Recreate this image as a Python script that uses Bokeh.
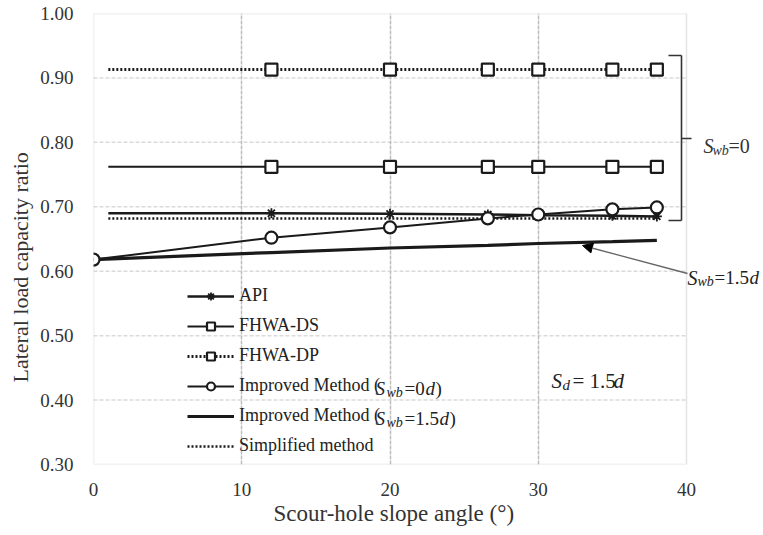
from bokeh.plotting import figure
from bokeh.models import (Legend, LegendItem, Label, Arrow, NormalHead, Title, BoxAnnotation,
                          FixedTicker, NumeralTickFormatter, Range1d)
from bokeh.embed import file_html
from bokeh.resources import INLINE

FONT = "Liberation Serif"

# ---------------- data ----------------
# scour-hole slope angles (deg); first value is the line start (no marker)
method_angle = [1, 12, 20, 26.6, 30, 35, 38]
api = [0.690, 0.690, 0.689, 0.688, 0.687, 0.686, 0.685]
fhwa_ds = [0.762, 0.762, 0.762, 0.762, 0.762, 0.762, 0.762]
fhwa_dp = [0.913, 0.913, 0.913, 0.913, 0.913, 0.913, 0.913]
simplified = [0.682, 0.682, 0.682, 0.682, 0.682, 0.682, 0.682]

improved_angle = [0, 12, 20, 26.6, 30, 35, 38]
improved_0d = [0.618, 0.652, 0.668, 0.682, 0.688, 0.696, 0.699]
improved_15d = [0.618, 0.629, 0.636, 0.640, 0.643, 0.646, 0.648]

x_ticks = [0, 10, 20, 30, 40]
y_ticks = [0.30, 0.40, 0.50, 0.60, 0.70, 0.80, 0.90, 1.00]

# ---------------- layout ----------------
# plot box spans 0..40 over 593 px; the drawing area continues to the right
# edge so that the right-hand annotations are not clipped
PLOT_L, PLOT_W, PLOT_T, PLOT_H = 93, 593, 13, 451
FRAME_W = 763 - PLOT_L
X_MAX = x_ticks[-1] * FRAME_W / PLOT_W

p = figure(frame_width=FRAME_W, frame_height=PLOT_H,
           x_range=Range1d(x_ticks[0], X_MAX), y_range=Range1d(y_ticks[0], y_ticks[-1]),
           output_backend="svg", toolbar_location=None,
           min_border_left=PLOT_L, min_border_right=0,
           min_border_top=PLOT_T, min_border_bottom=71)
p.background_fill_color = "white"
p.border_fill_color = "white"
p.outline_line_color = None

p.xaxis.ticker = FixedTicker(ticks=x_ticks)
p.yaxis.ticker = FixedTicker(ticks=y_ticks)
p.yaxis.formatter = NumeralTickFormatter(format="0.00")
for ax in (p.xaxis, p.yaxis):
    ax.axis_line_color = None
    ax.major_tick_line_color = None
    ax.minor_tick_line_color = None
    ax.major_label_text_font = FONT
    ax.major_label_text_font_size = "19px"
    ax.major_label_text_color = "#333333"
p.yaxis.major_label_standoff = 14
p.xaxis.major_label_standoff = 12

p.add_layout(Title(text="Scour-hole slope angle (°)", align="left", offset=180, standoff=0,
                   text_font=FONT, text_font_size="23px", text_font_style="normal",
                   text_color="#333333"), "below")
p.add_layout(Title(text="Lateral load capacity ratio", align="left", offset=82, standoff=9,
                   vertical_align="bottom",
                   text_font=FONT, text_font_size="22px", text_font_style="normal",
                   text_color="#333333"), "left")

# grid
p.xgrid.ticker = FixedTicker(ticks=x_ticks[1:-1])
p.xgrid.grid_line_color = "#bdbdbd"
p.xgrid.grid_line_width = 1.5
p.xgrid.grid_line_dash = "4 1"
p.ygrid.visible = False
inner_y = y_ticks[1:-1]
p.segment(x0=[x_ticks[0]] * len(inner_y), x1=[x_ticks[-1]] * len(inner_y),
          y0=inner_y, y1=inner_y, line_color="#dadada", line_width=1.5,
          line_dash="4 2", level="underlay")
p.add_layout(BoxAnnotation(left=x_ticks[0], right=x_ticks[-1], bottom=y_ticks[0], top=y_ticks[-1],
                           fill_alpha=0, line_color="#a6a6a6", line_width=1.5))

# ---------------- series ----------------
INK = "#1a1a1a"
dp_line = p.line(method_angle, fhwa_dp, line_color=INK, line_width=3, line_dash="2 2")
dp_pts = p.scatter(method_angle[1:], fhwa_dp[1:], marker="square", size=12,
                   fill_color="white", line_color=INK, line_width=2.2)

ds_line = p.line(method_angle, fhwa_ds, line_color=INK, line_width=2)
ds_pts = p.scatter(method_angle[1:], fhwa_ds[1:], marker="square", size=12,
                   fill_color="white", line_color=INK, line_width=2.2)

sm_line = p.line(method_angle, simplified, line_color=INK, line_width=2.5, line_dash="2 2")

api_line = p.line(method_angle, api, line_color=INK, line_width=2.5)
api_pts = p.scatter(method_angle[1:], api[1:], marker="asterisk", size=10,
                    line_color=INK, line_width=1.8)

i15_line = p.line(improved_angle, improved_15d, line_color=INK, line_width=3.2)

i0_line = p.line(improved_angle, improved_0d, line_color=INK, line_width=2)
i0_pts = p.scatter(improved_angle, improved_0d, marker="circle", size=12,
                   fill_color="white", line_color=INK, line_width=2.2)

# ---------------- legend ----------------
legend = Legend(items=[
    LegendItem(label="API", renderers=[api_line, api_pts]),
    LegendItem(label="FHWA-DS", renderers=[ds_line, ds_pts]),
    LegendItem(label="FHWA-DP", renderers=[dp_line, dp_pts]),
    LegendItem(label="Improved Method (", renderers=[i0_line, i0_pts]),
    LegendItem(label="Improved Method (", renderers=[i15_line]),
    LegendItem(label="Simplified method", renderers=[sm_line]),
], location=(94, 8), glyph_width=47, glyph_height=20, label_height=20,
   label_standoff=5, spacing=9, padding=0, margin=0,
   border_line_color=None, background_fill_alpha=0,
   label_text_font=FONT, label_text_font_size="18px", label_text_color="#222222")
p.add_layout(legend)

# ---------------- annotations ----------------
def px_x(px):
    return (px - PLOT_L) / PLOT_W * x_ticks[-1]

def px_y(py):
    return y_ticks[-1] - (py - PLOT_T) / PLOT_H * (y_ticks[-1] - y_ticks[0])

def add_text(text, px, py, size, style="normal", color="#222222"):
    p.add_layout(Label(x=px_x(px), y=px_y(py), text=text, text_font=FONT,
                       text_font_size=f"{size}px", text_font_style=style,
                       text_baseline="alphabetic", text_align="left",
                       text_color=color))

# legend subscripts
add_text("S", 375, 388, 19, "italic")
add_text("wb", 386, 392, 14, "italic")
add_text("=0", 404, 388, 19)
add_text("d", 425, 388, 19, "italic")
add_text(")", 435, 388, 19)

add_text("S", 375, 418, 19, "italic")
add_text("wb", 386, 422, 14, "italic")
add_text("=1.5", 404, 418, 19)
add_text("d", 439, 418, 19, "italic")
add_text(")", 449, 418, 19)

# S_d = 1.5d
add_text("S", 551, 380, 21, "italic")
add_text("d", 562, 384, 15, "italic")
add_text("= 1.5", 572, 380, 21)
add_text("d", 613, 380, 21, "italic")

# S_wb = 0 bracket label
add_text("S", 703, 145, 20, "italic", "#333333")
add_text("wb", 712, 150, 14, "italic", "#333333")
add_text("=0", 728, 145, 20, "normal", "#333333")

# S_wb = 1.5d pointer label
add_text("S", 687, 277, 20, "italic")
add_text("wb", 697, 281, 14, "italic")
add_text("=1.5", 714, 277, 19)
add_text("d", 749, 277, 19, "italic")

def seg(x0, y0, x1, y1, color="#333333", width=1.6):
    p.add_layout(Arrow(x_start=px_x(x0), y_start=px_y(y0), x_end=px_x(x1), y_end=px_y(y1),
                       end=None, line_color=color, line_width=width))

seg(668, 55, 681, 55)
seg(681, 55, 681, 220)
seg(681, 138, 691, 138)
seg(668, 220, 681, 220)

p.add_layout(Arrow(x_start=px_x(687), y_start=px_y(273), x_end=px_x(582), y_end=px_y(245),
                   end=NormalHead(size=10, fill_color="black", line_color="black"),
                   line_color="#666666", line_width=1.3))

open("out.html", "w").write(file_html(p, INLINE))
